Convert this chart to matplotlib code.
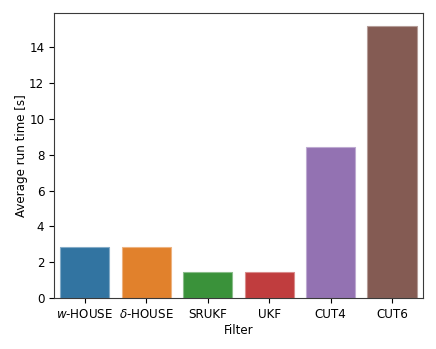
import matplotlib
matplotlib.use("Agg")
import matplotlib.pyplot as plt
import matplotlib.colors as mcolors
import seaborn as sns
import pandas as pd

filters = [r"$w$-HOUSE", r"$\delta$-HOUSE", "SRUKF", "UKF", "CUT4", "CUT6"]
run_times = [2.87, 2.83, 1.47, 1.47, 8.44, 15.17]

df = pd.DataFrame({"Filter": filters, "Average run time [s]": run_times})

plt.rcParams["font.size"] = 8.6
plt.rcParams["axes.edgecolor"] = "#3a3a3a"

fig = plt.figure(figsize=(4.36, 3.49), dpi=100)
ax = fig.add_axes([0.124, 0.146, 0.8455, 0.817])
sns.barplot(data=df, x="Filter", y="Average run time [s]", hue="Filter",
            palette="tab10", saturation=0.75, legend=False, ax=ax)
for p in ax.patches:
    fc = mcolors.to_rgb(p.get_facecolor())
    ec = tuple(0.6 * c + 0.4 for c in fc)
    p.set_edgecolor(ec)
    p.set_linewidth(0.8)
ax.set_yticks([0, 2, 4, 6, 8, 10, 12, 14])
ax.set_ylabel("Average run time [s]", labelpad=1)
ax.set_xlabel("Filter", labelpad=2.5)
fig.savefig("out.png", dpi=100)
